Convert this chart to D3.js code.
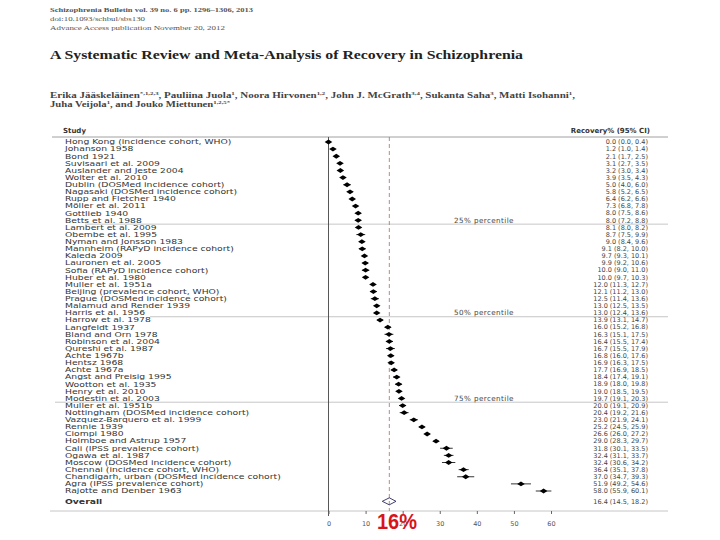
<!DOCTYPE html>
<html>
<head>
<meta charset="utf-8">
<script src="https://cdn.jsdelivr.net/npm/d3@7"></script>
<style>
  body { margin: 0; background: #fff; }
  svg { display: block; }
</style>
</head>
<body>
<svg width="720" height="540"></svg>
<script>
// Study rows, top to bottom
const studies = [
  "Hong Kong (incidence cohort, WHO)", "Johanson 1958", "Bond 1921", "Suvisaari et al. 2009",
  "Auslander and Jeste 2004", "Wolter et al. 2010", "Dublin (DOSMed incidence cohort)",
  "Nagasaki (DOSMed incidence cohort)", "Rupp and Fletcher 1940", "Möller et al. 2011",
  "Gottlieb 1940", "Betts et al. 1988", "Lambert et al. 2009", "Obembe et al. 1995",
  "Nyman and Jonsson 1983", "Mannheim (RAPyD incidence cohort)", "Kaleda 2009",
  "Lauronen et al. 2005", "Sofia (RAPyD incidence cohort)", "Huber et al. 1980",
  "Muller et al. 1951a", "Beijing (prevalence cohort, WHO)", "Prague (DOSMed incidence cohort)",
  "Malamud and Render 1939", "Harris et al. 1956", "Harrow et al. 1978", "Langfeldt 1937",
  "Bland and Orn 1978", "Robinson et al. 2004", "Qureshi et al. 1987", "Achte 1967b",
  "Hentsz 1968", "Achte 1967a", "Angst and Preisig 1995", "Wootton et al. 1935",
  "Henry et al. 2010", "Modestin et al. 2003", "Muller et al. 1951b",
  "Nottingham (DOSMed incidence cohort)", "Vazquez-Barquero et al. 1999", "Rennie 1939",
  "Ciompi 1980", "Holmboe and Astrup 1957", "Cali (IPSS prevalence cohort)", "Ogawa et al. 1987",
  "Moscow (DOSMed incidence cohort)", "Chennai (incidence cohort, WHO)",
  "Chandigarh, urban (DOSMed incidence cohort)", "Agra (IPSS prevalence cohort)",
  "Rajotte and Denber 1963"
];
// Recovery % and 95% CI
const est = [0.0, 1.2, 2.1, 3.1, 3.2, 3.9, 5.0, 5.8, 6.4, 7.3, 8.0, 8.0, 8.1, 8.7, 9.0, 9.1, 9.7, 9.9, 10.0, 10.0,
  12.0, 12.1, 12.5, 13.0, 13.0, 13.9, 16.0, 16.3, 16.4, 16.7, 16.8, 16.9, 17.7, 18.4, 18.9, 19.0, 19.7, 20.0,
  20.4, 23.0, 25.2, 26.6, 29.0, 31.8, 32.4, 32.4, 36.4, 37.0, 51.9, 58.0];
const lo = [0.0, 1.0, 1.7, 2.7, 3.0, 3.5, 4.0, 5.2, 6.2, 6.8, 7.5, 7.2, 8.0, 7.5, 8.4, 8.2, 9.3, 9.2, 9.0, 9.7,
  11.3, 11.2, 11.4, 12.5, 12.4, 13.1, 15.2, 15.1, 15.5, 15.5, 16.0, 16.3, 16.9, 17.4, 18.0, 18.5, 19.1, 19.1,
  19.2, 21.9, 24.5, 26.0, 28.3, 30.1, 31.1, 30.6, 35.1, 34.7, 49.2, 55.9];
const hi = [0.4, 1.4, 2.5, 3.5, 3.4, 4.3, 6.0, 6.5, 6.6, 7.8, 8.6, 8.8, 8.2, 9.9, 9.6, 10.0, 10.1, 10.6, 11.0, 10.3,
  12.7, 13.0, 13.6, 13.5, 13.6, 14.7, 16.8, 17.5, 17.4, 17.9, 17.6, 17.5, 18.5, 19.1, 19.8, 19.5, 20.3, 20.9,
  21.6, 24.1, 25.9, 27.2, 29.7, 33.5, 33.7, 34.2, 37.8, 39.3, 54.6, 60.1];
// Pooled estimate
const overall = { label: "Overall", est: 16.4, lo: 14.5, hi: 18.2 };
// Percentile markers (row where each label sits)
const pctLabels = ["25% percentile", "50% percentile", "75% percentile"];
const pctRows = ["Betts et al. 1988", "Harris et al. 1956", "Modestin et al. 2003"];
const xTicks = [0, 10, 20, 30, 40, 50, 60];
// Authors with affiliation marks
const authors1 = [["Erika Jääskeläinen", "*,1,2,3"], [", Pauliina Juola", "1"], [", Noora Hirvonen", "1,2"],
  [", John J. McGrath", "3,4"], [", Sukanta Saha", "3"], [", Matti Isohanni", "1"], [",", ""]];
const authors2 = [["Juha Veijola", "1"], [", and Jouko Miettunen", "1,2,5*"]];

const svg = d3.select("svg");
const fmt = d3.format(".1f");
const ciText = (e, l, h) => `${fmt(e)} (${fmt(l)}, ${fmt(h)})`;

const x = d3.scaleLinear().domain([0, 60]).range([328.5, 551]);
const y = d3.scaleLinear().domain([0, studies.length - 1]).range([142, 491]);
const yOverall = y(50.45);

// Page header
const serif = "'Liberation Serif', 'DejaVu Serif', serif";
const head = svg.append("g").attr("font-family", serif).attr("fill", "#555");
head.append("text").attr("x", 50).attr("y", 12).attr("font-size", 6.5).attr("font-weight", "bold")
  .attr("textLength", 203).attr("lengthAdjust", "spacingAndGlyphs")
  .text("Schizophrenia Bulletin vol. 39 no. 6 pp. 1296–1306, 2013");
head.append("text").attr("x", 50).attr("y", 21).attr("font-size", 6.5)
  .attr("textLength", 95).attr("lengthAdjust", "spacingAndGlyphs")
  .text("doi:10.1093/schbul/sbs130");
head.append("text").attr("x", 50).attr("y", 30).attr("font-size", 6.5)
  .attr("textLength", 175).attr("lengthAdjust", "spacingAndGlyphs")
  .text("Advance Access publication November 20, 2012");
head.append("text").attr("x", 50).attr("y", 59).attr("font-size", 13.5).attr("font-weight", "bold")
  .attr("fill", "#222").attr("textLength", 473).attr("lengthAdjust", "spacingAndGlyphs")
  .text("A Systematic Review and Meta-Analysis of Recovery in Schizophrenia");

function authorLine(list, yPos, width) {
  const t = head.append("text").attr("x", 50).attr("y", yPos).attr("font-size", 8).attr("font-weight", "bold")
    .attr("fill", "#444").attr("textLength", width).attr("lengthAdjust", "spacingAndGlyphs");
  let raised = false;
  list.forEach(([name, mark]) => {
    t.append("tspan").attr("dy", raised ? 3 : 0).text(name);
    raised = false;
    if (mark) {
      t.append("tspan").attr("font-size", 5).attr("dy", -3).text(mark);
      raised = true;
    }
  });
}
authorLine(authors1, 98, 525);
authorLine(authors2, 107, 180);

// Forest plot
const sans = "'DejaVu Sans', Verdana, sans-serif";
const plot = svg.append("g").attr("font-family", sans);

plot.append("text").attr("x", 63).attr("y", 133).attr("font-size", 7).attr("font-weight", "bold")
  .attr("fill", "#333").text("Study");
plot.append("text").attr("x", 650).attr("y", 133).attr("font-size", 7).attr("font-weight", "bold")
  .attr("fill", "#333").attr("text-anchor", "end").text("Recovery% (95% CI)");

// rules: header line, scan seams, axis baseline
const rules = [[52, 137], [85, y(11) + 3.8], [150, y(24) + 3.8], [55, y(36) + 3.8], [50, 511]];
plot.selectAll("line.rule").data(rules).enter().append("line").attr("class", "rule")
  .attr("x1", d => d[0]).attr("x2", 668).attr("y1", d => d[1]).attr("y2", d => d[1])
  .attr("stroke", (d, i) => i === 0 ? "#888" : "#b8b8b8").attr("stroke-width", 0.8);

// null line and pooled line
plot.append("line").attr("x1", x(0)).attr("x2", x(0)).attr("y1", 137).attr("y2", 516)
  .attr("stroke", "#444").attr("stroke-width", 0.9);
plot.append("line").attr("x1", x(overall.est)).attr("x2", x(overall.est)).attr("y1", 137).attr("y2", 511)
  .attr("stroke", "#b07a7a").attr("stroke-width", 0.9).attr("stroke-dasharray", "4,3");

// study names, stretched sideways like the scanned Verdana-style column
const names = plot.append("g").attr("transform", "translate(65,0) scale(1.38,1)");
names.selectAll("text").data(studies).enter().append("text")
  .attr("x", 0).attr("y", (d, i) => y(i)).attr("dy", "0.35em")
  .attr("font-size", 6.7).attr("fill", "#333").text(d => d);
names.append("text").attr("x", 0).attr("y", yOverall).attr("dy", "0.35em").attr("font-size", 6.7)
  .attr("font-weight", "bold").attr("fill", "#333").text(overall.label);

const rows = plot.selectAll("g.row").data(studies).enter().append("g").attr("class", "row");
rows.append("line").attr("x1", (d, i) => x(lo[i])).attr("x2", (d, i) => x(hi[i]))
  .attr("y1", (d, i) => y(i)).attr("y2", (d, i) => y(i)).attr("stroke", "#000").attr("stroke-width", 0.8);
rows.append("path")
  .attr("d", (d, i) => {
    const cx = x(est[i]), cy = y(i);
    return `M${cx - 3.8},${cy}L${cx},${cy - 2.4}L${cx + 3.8},${cy}L${cx},${cy + 2.4}Z`;
  })
  .attr("fill", "#000");
rows.append("text").attr("x", 648).attr("y", (d, i) => y(i)).attr("dy", "0.35em")
  .attr("text-anchor", "end").attr("font-size", 6.5).attr("fill", "#444")
  .text((d, i) => ciText(est[i], lo[i], hi[i]));

// percentile labels
plot.selectAll("text.pct").data(pctLabels).enter().append("text").attr("class", "pct")
  .attr("x", 484).attr("y", (d, i) => y(studies.indexOf(pctRows[i]))).attr("dy", "0.35em")
  .attr("text-anchor", "middle").attr("font-size", 7.2).attr("letter-spacing", 0.4)
  .attr("fill", "#444").text(d => d);

// overall row
plot.append("path")
  .attr("d", `M${x(overall.lo)},${yOverall}L${x(overall.est)},${yOverall - 3.5}L${x(overall.hi)},${yOverall}L${x(overall.est)},${yOverall + 3.5}Z`)
  .attr("fill", "none").attr("stroke", "#2a2a5a").attr("stroke-width", 0.9);
plot.append("text").attr("x", 648).attr("y", yOverall).attr("dy", "0.35em").attr("text-anchor", "end")
  .attr("font-size", 6.5).attr("fill", "#444").text(ciText(overall.est, overall.lo, overall.hi));

// x axis
const axis = plot.append("g").attr("transform", "translate(0,511)")
  .call(d3.axisBottom(x).tickValues(xTicks).tickSize(3).tickPadding(7).tickFormat(d3.format("d")));
axis.select(".domain").remove();
axis.selectAll(".tick line").attr("stroke", "#666");
axis.selectAll(".tick text").attr("font-family", sans).attr("font-size", 6.5).attr("fill", "#555");

// highlighted pooled value
svg.append("text").attr("x", 377).attr("y", 529).attr("font-family", "'Liberation Sans', Arial, sans-serif")
  .attr("font-size", 22).attr("font-weight", "bold").attr("fill", "#d8141b")
  .attr("textLength", 40).attr("lengthAdjust", "spacingAndGlyphs")
  .text(Math.round(overall.est) + "%");
</script>
</body>
</html>
